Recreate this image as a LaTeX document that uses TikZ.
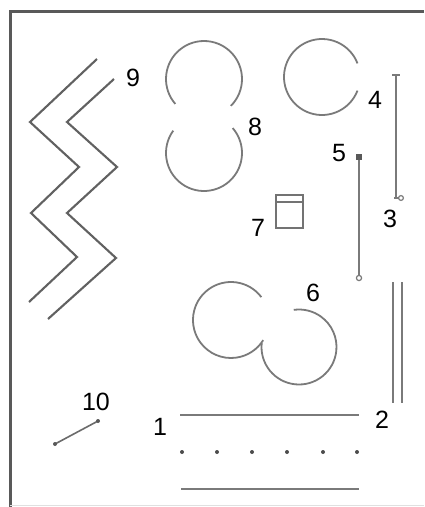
\documentclass[tikz,border=0pt]{standalone}
\usepackage{fontspec}
\setmainfont{Liberation Sans}
\begin{document}
\begin{tikzpicture}[x=1pt,y=-1pt,
  frame/.style={draw=black!65,line width=3pt},
  zig/.style={draw=black!62,line width=2.1pt,line join=miter},
  arcl/.style={draw=black!52,line width=1.8pt},
  rod/.style={draw=black!52,line width=1.8pt},
  thick rod/.style={draw=black!52,line width=2.4pt},
  lbl/.style={font=\fontsize{25}{30}\selectfont,inner sep=0pt,text=black}]
\useasboundingbox (0,0) rectangle (424,507);
\fill[white] (0,0) rectangle (424,507);
% frame
\draw[frame] (10,507) -- (10,11) -- (424,11);
\draw[draw=black!12,line width=0.8pt] (10,505) -- (424,505);
% 9 zigzags
\draw[zig] (97,59) -- (30,122) -- (79,167) -- (31,213) -- (77,257) -- (29,302);
\draw[zig] (114,79) -- (67,122) -- (117,167) -- (67,213) -- (116,258) -- (48,319);
\node[lbl] (n9) at (133,78) {9};
% 8
\draw[arcl] (204,79) ++(45:38) arc[start angle=45,end angle=-221,radius=38];
\draw[arcl] (204,153) ++(-144:38) arc[start angle=-144,end angle=-401,radius=38];
\node[lbl] (n8) at (255,127) {8};
% 4
\draw[arcl] (322,77) ++(-21:38) arc[start angle=-21,end angle=-339,radius=38];
\node[lbl] (n4) at (375,100) {4};
% 3
\coordinate (t3) at (396,75);
\coordinate (b3) at (396,198);
\draw[rod] (t3) -- (b3);
\draw[rod] ([xshift=-4]t3) -- ([xshift=4]t3);
\draw[rod] ([xshift=-2]b3) -- ([xshift=3]b3);
\draw[draw=black!52,line width=1.2pt] (401,198) circle[radius=2.4];
\node[lbl] (n3) at (390,219) {3};
% 5
\coordinate (t5) at (359,157);
\coordinate (b5) at (359,278);
\draw[rod] (t5) -- (b5);
\fill[black!65] ([shift={(-2.6,-2.6)}]t5) rectangle ([shift={(2.6,2.6)}]t5);
\draw[draw=black!52,line width=1.2pt,fill=white] (b5) circle[radius=2.6];
\node[lbl] (n5) at (339,153) {5};
% 7
\draw[draw=black!55,line width=1.3pt] (276,195) rectangle (303,228);
\draw[draw=black!55,line width=1.3pt] (276,202) -- (303,202);
\node[lbl] (n7) at (258,228) {7};
% 6
\draw[arcl] (231,320) ++(-37:38) arc[start angle=-37,end angle=-328,radius=38];
\draw[arcl] (299,347) ++(-174:37.5) arc[start angle=-174,end angle=-458,radius=37.5];
\node[lbl] (n6) at (313,293) {6};
% 2
\draw[rod] (393,282) -- (393,403);
\draw[rod] (402,282) -- (402,403);
\node[lbl] (n2) at (382,420) {2};
% 1
\draw[thick rod] (180,415) -- (359,415);
\node[lbl] (n1) at (160,427) {1};
\foreach \x in {182,217,252,287,323,357}
  \fill[black!70] (\x,452) circle[radius=2];
\draw[thick rod] (181,489) -- (359,489);
% 10
\coordinate (a10) at (55,444);
\coordinate (b10) at (98,421);
\draw[draw=black!58,line width=1.6pt] (a10) -- (b10);
\fill[black!65] (a10) circle[radius=2];
\fill[black!65] (b10) circle[radius=2];
\node[lbl] (n10) at (96,402) {10};
\end{tikzpicture}
\end{document}
